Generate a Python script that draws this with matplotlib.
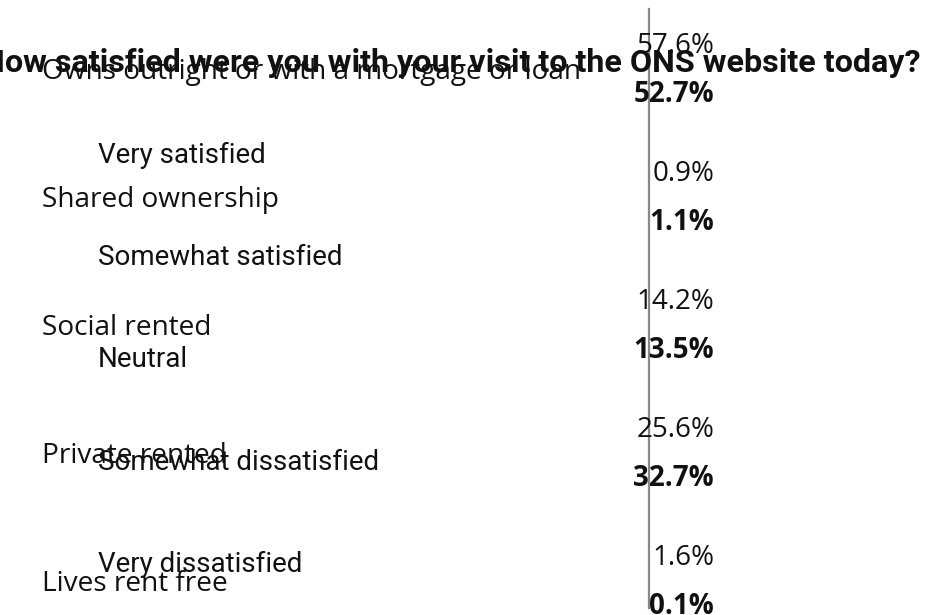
import matplotlib
matplotlib.use("Agg")
import matplotlib.pyplot as plt
import matplotlib.transforms as mtransforms

W, H = 928, 615
DPI = 100

title = "How satisfied were you with your visit to the ONS website today?"
satisfaction = ["Very satisfied", "Somewhat satisfied", "Neutral",
                "Somewhat dissatisfied", "Very dissatisfied"]
tenure = ["Owns outright or with a mortgage or loan", "Shared ownership",
          "Social rented", "Private rented", "Lives rent free"]
series_a = [57.6, 0.9, 14.2, 25.6, 1.6]   # regular weight
series_b = [52.7, 1.1, 13.5, 32.7, 0.1]   # bold

fig = plt.figure(figsize=(W / DPI, H / DPI), dpi=DPI)
fig.patch.set_facecolor("white")

def px(v):  # pixels -> points
    return v * 72 / DPI

# ---- satisfaction labels (overlay) ----
ax2 = fig.add_axes([0, 0, 1, 1])
ax2.set_axis_off()
ax2.set_xlim(0, 1)
ax2.set_ylim(4.421, -1.594)
t2 = mtransforms.blended_transform_factory(fig.transFigure, ax2.transData)
for i, lab in enumerate(satisfaction):
    ax2.text(98 / W, i, lab, transform=t2, ha="left", va="baseline",
             fontsize=20, family="Roboto", color="#111111")

# ---- tenure chart ----
top_px, bot_px, x0_px = 9, 608, 649
ax1 = fig.add_axes([x0_px / W, (H - bot_px) / H, (W - x0_px) / W, (bot_px - top_px) / H])
ax1.patch.set_alpha(0)
ax1.set_xlim(0, 100)
ax1.set_ylim(4.141, -0.535)
for s in ["top", "right", "bottom"]:
    ax1.spines[s].set_visible(False)
ax1.spines["left"].set_color("#888888")
ax1.spines["left"].set_linewidth(1.6)
ax1.set_xticks([])
ax1.set_yticks([])

t1 = mtransforms.blended_transform_factory(fig.transFigure, ax1.transData)
for i, lab in enumerate(tenure):
    ax1.annotate(lab, xy=(42 / W, i), xycoords=t1, xytext=(0, -px(1.5)),
                 textcoords="offset points", ha="left", va="baseline",
                 fontsize=20.2, family="Open Sans", color="#111111",
                 annotation_clip=False)

for i, (a, b) in enumerate(zip(series_a, series_b)):
    ax1.annotate(f"{a:.1f}%", xy=(0, i), xytext=(px(65), px(24.5)),
                 textcoords="offset points", ha="right", va="baseline",
                 fontsize=20, family="Open Sans", color="#111111",
                 annotation_clip=False)
    ax1.annotate(f"{b:.1f}%", xy=(0, i), xytext=(px(65), -px(24.5)),
                 textcoords="offset points", ha="right", va="baseline",
                 fontsize=20, family="Open Sans", fontweight="bold",
                 color="#111111", annotation_clip=False)

fig.text(451.5 / W, 1 - 71.5 / H, title, ha="center", va="baseline",
         fontsize=23.2, family="Roboto", fontweight="bold", color="#111111")

fig.savefig("out.png", dpi=DPI)
